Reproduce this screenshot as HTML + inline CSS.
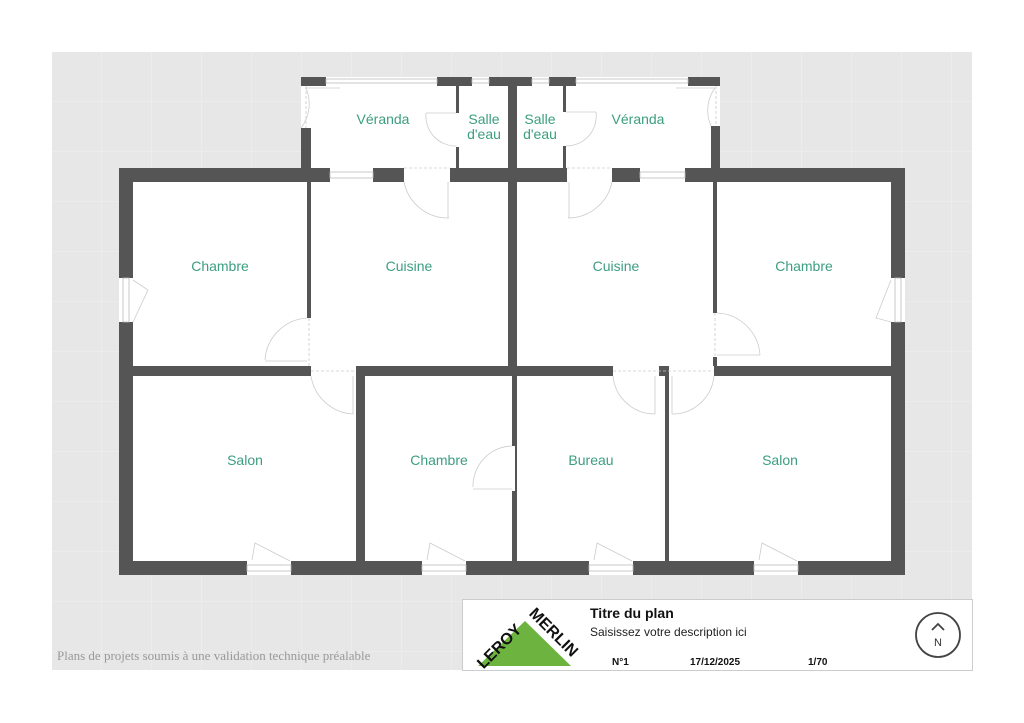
<!DOCTYPE html>
<html><head><meta charset="utf-8"><style>
html,body{margin:0;padding:0;background:#fff;width:1024px;height:723px;overflow:hidden}
svg{display:block}
text{font-family:"Liberation Sans",sans-serif}
</style></head><body>
<svg width="1024" height="723" viewBox="0 0 1024 723" xmlns="http://www.w3.org/2000/svg">
<defs>
<pattern id="g" width="50" height="50" patternUnits="userSpaceOnUse" x="52" y="52">
<rect width="50" height="50" fill="#e7e7e7"/>
<path d="M50 0V50M0 50H50" stroke="#f0f0f0" stroke-width="1"/>
</pattern>
</defs>
<rect x="52" y="52" width="920" height="618" fill="url(#g)"/>
<rect x="119" y="168" width="786" height="407" fill="#fff"/>
<rect x="301" y="77" width="419" height="91" fill="#fff"/>
<g fill="#555">
<rect x="119" y="168" width="14" height="110"/>
<rect x="119" y="322" width="14" height="253"/>
<rect x="891" y="168" width="14" height="110"/>
<rect x="891" y="322" width="14" height="253"/>
<rect x="119" y="168" width="211" height="14"/>
<rect x="373" y="168" width="31" height="14"/>
<rect x="450" y="168" width="117" height="14"/>
<rect x="612" y="168" width="28" height="14"/>
<rect x="685" y="168" width="220" height="14"/>
<rect x="119" y="561" width="128" height="14"/>
<rect x="291" y="561" width="131" height="14"/>
<rect x="466" y="561" width="123" height="14"/>
<rect x="633" y="561" width="121" height="14"/>
<rect x="798" y="561" width="107" height="14"/>
<rect x="133" y="366" width="178" height="10"/>
<rect x="356" y="366" width="257" height="10"/>
<rect x="659" y="366" width="10" height="10"/>
<rect x="714" y="366" width="177" height="10"/>
<rect x="307" y="182" width="4" height="136"/>
<rect x="508" y="77" width="9" height="289"/>
<rect x="512" y="376" width="5" height="115"/>
<rect x="512" y="491" width="5" height="70"/>
<rect x="713" y="182" width="4" height="131"/>
<rect x="713" y="357" width="4" height="9"/>
<rect x="356" y="376" width="9" height="185"/>
<rect x="665" y="376" width="4" height="185"/>
<rect x="510" y="446" width="5" height="45" fill="#fff"/>
<rect x="301" y="77" width="25" height="9"/>
<rect x="437" y="77" width="35" height="9"/>
<rect x="489" y="77" width="43" height="9"/>
<rect x="549" y="77" width="27" height="9"/>
<rect x="688" y="77" width="32" height="9"/>
<rect x="301" y="128" width="10" height="40"/>
<rect x="711" y="126" width="9" height="42"/>
<rect x="456" y="86" width="3" height="27"/>
<rect x="456" y="147" width="3" height="21"/>
<rect x="563" y="86" width="3" height="26"/>
<rect x="563" y="146" width="3" height="22"/>
</g>
<g fill="#fff" stroke="#bbb" stroke-width="0.8">
<rect x="330" y="172" width="43" height="6"/>
<rect x="640" y="172" width="45" height="6"/>
<rect x="247" y="565" width="44" height="6"/>
<rect x="422" y="565" width="44" height="6"/>
<rect x="589" y="565" width="44" height="6"/>
<rect x="754" y="565" width="44" height="6"/>
<rect x="123" y="278" width="6" height="44"/>
<rect x="895" y="278" width="6" height="44"/>
<rect x="326" y="79" width="111" height="4"/>
<rect x="472" y="79" width="17" height="4"/>
<rect x="532" y="79" width="17" height="4"/>
<rect x="576" y="79" width="112" height="4"/>
</g>
<g fill="none" stroke="#ccc" stroke-width="0.8">
<path d="M306 88 A40 40 0 0 1 301 128"/><line x1="305" y1="88" x2="340" y2="88"/>
<path d="M715 88 A38 38 0 0 0 711 126"/><line x1="676" y1="88" x2="715" y2="88"/>
<path d="M426 113 A30 30 0 0 0 456 146"/><line x1="426" y1="113" x2="456" y2="113"/>
<path d="M596 112 A30 30 0 0 1 566 146"/><line x1="566" y1="112" x2="596" y2="112"/>
<path d="M404 182 A45 45 0 0 0 449 218"/><line x1="448" y1="182" x2="448" y2="218"/>
<path d="M612 182 A45 45 0 0 1 568 218"/><line x1="569" y1="182" x2="569" y2="218"/>
<path d="M307 318 A45 45 0 0 0 265 360"/><line x1="265" y1="361" x2="307" y2="361"/>
<path d="M717 313 A45 45 0 0 1 760 355"/><line x1="717" y1="355" x2="760" y2="355"/>
<path d="M311 376 A45 45 0 0 0 353 414"/><line x1="353" y1="376" x2="353" y2="414"/>
<path d="M613 376 A42 42 0 0 0 655 414"/><line x1="655" y1="376" x2="655" y2="414"/>
<path d="M714 376 A42 42 0 0 1 672 414"/><line x1="672" y1="376" x2="672" y2="414"/>
<path d="M512 446 A40 40 0 0 0 473 487"/><line x1="473" y1="489" x2="512" y2="489"/>
<path d="M133 280 L148 290 L133 322"/><path d="M891 280 L876 318 L891 322"/>
<path d="M252 560 L255 543 L290 561"/><path d="M427 560 L430 543 L465 561"/>
<path d="M594 560 L597 543 L632 561"/><path d="M759 560 L762 543 L797 561"/>
</g>
<g stroke="#ccc" stroke-width="0.8" stroke-dasharray="3 2">
<line x1="311" y1="371" x2="356" y2="371"/><line x1="613" y1="371" x2="714" y2="371"/>
<line x1="309" y1="318" x2="309" y2="366"/><line x1="715" y1="313" x2="715" y2="357"/>
<line x1="404" y1="168" x2="450" y2="168"/><line x1="567" y1="168" x2="612" y2="168"/>
<line x1="306" y1="86" x2="306" y2="128"/><line x1="716" y1="86" x2="716" y2="126"/>
</g>
<g fill="#3c9e80" font-size="14" text-anchor="middle">
<text x="383" y="124">Véranda</text>
<text x="638" y="124">Véranda</text>
<text x="484" y="124">Salle</text><text x="484" y="139">d'eau</text>
<text x="540" y="124">Salle</text><text x="540" y="139">d'eau</text>
<text x="220" y="271">Chambre</text>
<text x="409" y="271">Cuisine</text>
<text x="616" y="271">Cuisine</text>
<text x="804" y="271">Chambre</text>
<text x="245" y="465">Salon</text>
<text x="439" y="465">Chambre</text>
<text x="591" y="465">Bureau</text>
<text x="780" y="465">Salon</text>
</g>
<text x="57" y="660" style="font-family:'Liberation Serif',serif;font-size:13px" fill="#999">Plans de projets soumis à une validation technique préalable</text>
<rect x="462.5" y="599.5" width="510" height="71" fill="#fff" stroke="#ccc"/>
<polygon points="478,666 571,666 525,621" fill="#6db33f"/>
<text x="503" y="650" font-size="16" font-weight="bold" fill="#111" transform="rotate(-45 503 650)" text-anchor="middle">LEROY</text>
<text x="550" y="636" font-size="16" font-weight="bold" fill="#111" transform="rotate(45 550 636)" text-anchor="middle">MERLIN</text>
<text x="590" y="618" font-size="14" font-weight="bold" fill="#111">Titre du plan</text>
<text x="590" y="636" font-size="12" fill="#222">Saisissez votre description ici</text>
<g font-size="10" font-weight="bold" fill="#111">
<text x="612" y="665">N°1</text><text x="690" y="665">17/12/2025</text><text x="808" y="665">1/70</text>
</g>
<circle cx="938" cy="635" r="22" fill="none" stroke="#444" stroke-width="1.8"/>
<path d="M932 630 L938 624 L944 630" fill="none" stroke="#444" stroke-width="1.8"/>
<text x="938" y="646" font-size="11" fill="#333" text-anchor="middle">N</text>
</svg>
</body></html>
